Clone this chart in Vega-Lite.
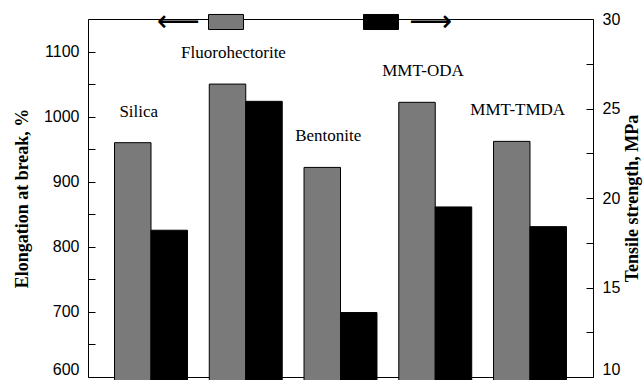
{
  "$schema": "https://vega.github.io/schema/vega-lite/v6.json",
  "autosize": "none",
  "width": 505,
  "height": 358,
  "padding": {"left": 88, "top": 19, "right": 51, "bottom": 3},
  "background": "white",
  "config": {
    "view": {"stroke": null},
    "axis": {"grid": false, "domainColor": "black", "tickColor": "black", "labelColor": "black", "titleColor": "black", "labelFont": "Liberation Sans", "labelFontSize": 16, "titleFont": "Liberation Serif", "titleFontSize": 18, "titleFontWeight": "bold", "tickWidth": 1},
    "legend": {"padding": 0}
  },
  "data": {
    "values": [
      {"sample": "Silica", "measure": "Elongation", "value": 960},
      {"sample": "Fluorohectorite", "measure": "Elongation", "value": 1050},
      {"sample": "Bentonite", "measure": "Elongation", "value": 922},
      {"sample": "MMT-ODA", "measure": "Elongation", "value": 1022},
      {"sample": "MMT-TMDA", "measure": "Elongation", "value": 962},
      {"sample": "Silica", "measure": "Tensile", "value": 18.2},
      {"sample": "Fluorohectorite", "measure": "Tensile", "value": 25.4},
      {"sample": "Bentonite", "measure": "Tensile", "value": 13.6},
      {"sample": "MMT-ODA", "measure": "Tensile", "value": 19.5},
      {"sample": "MMT-TMDA", "measure": "Tensile", "value": 18.4}
    ]
  },
  "encoding": {
    "x": {
      "field": "sample", "type": "nominal", "sort": null,
      "scale": {"paddingInner": 0.23, "paddingOuter": 0.28},
      "axis": {"title": null, "labels": false, "ticks": false, "tickSize": 0, "domainWidth": 1}
    },
    "xOffset": {"field": "measure", "type": "nominal", "scale": {"domain": ["Elongation", "Tensile"], "paddingInner": 0, "paddingOuter": 0}}
  },
  "layer": [
    {
      "layer": [
        {
          "transform": [{"filter": "datum.measure === 'Elongation'"}],
          "mark": {"type": "bar", "stroke": "black", "strokeWidth": 1},
          "encoding": {
            "y": {
              "field": "value", "type": "quantitative",
              "scale": {"domain": [600, 1150], "nice": false, "zero": false},
              "axis": {
                "title": "Elongation at break, %",
                "orient": "left",
                "values": [600, 700, 800, 900, 1000, 1100],
                "format": "d",
                "labelBaseline": {"condition": {"test": "datum.value === 600", "value": "bottom"}, "value": "middle"},
                "ticks": false, "tickSize": 0, "labelPadding": 9, "titlePadding": 12
              }
            },
            "color": {
              "field": "measure", "type": "nominal",
              "scale": {"domain": ["Elongation"], "range": ["#7a7a7a"]},
              "legend": {"title": null, "orient": "none", "legendX": 120, "legendY": -15, "symbolType": "M-1,-0.43H1V0.43H-1Z", "symbolSize": 1225, "symbolStrokeColor": "black", "symbolStrokeWidth": 1, "symbolOpacity": 1, "labelExpr": "'⟵'", "labelFont": "DejaVu Sans", "labelFontSize": 30, "labelAlign": "right", "labelOffset": -44}
            }
          }
        },
        {
          "transform": [{"filter": "datum.measure === 'Elongation'"}],
          "mark": {"type": "text", "font": "Liberation Serif", "fontSize": 17, "baseline": "middle", "dy": -31, "dx": 6, "color": "black"},
          "encoding": {
            "y": {"field": "value", "type": "quantitative", "axis": null},
            "xOffset": {"field": "measure", "type": "nominal"},
            "text": {"field": "sample"}
          }
        },
        {
          "transform": [{"filter": "datum.measure === 'Elongation'"}],
          "mark": {"type": "point", "opacity": 0},
          "encoding": {
            "y": {
              "field": "value", "type": "quantitative",
              "axis": {"orient": "right", "offset": -505, "title": null, "labels": false, "domain": false, "ticks": true, "tickSize": 7,
                "values": [600, 650, 700, 750, 800, 850, 900, 950, 1000, 1050, 1100, 1150]}
            }
          }
        }
      ],
      "resolve": {"axis": {"y": "independent"}}
    },
    {
      "layer": [
        {
          "transform": [{"filter": "datum.measure === 'Tensile'"}],
          "mark": {"type": "bar", "stroke": "black", "strokeWidth": 1},
          "encoding": {
            "y": {
              "field": "value", "type": "quantitative",
              "scale": {"domain": [10, 30], "nice": false, "zero": false},
              "axis": {
                "title": "Tensile strength, MPa",
                "orient": "right",
                "values": [10, 15, 20, 25, 30],
                "labelBaseline": {"condition": {"test": "datum.value === 10", "value": "bottom"}, "value": "middle"},
                "ticks": false, "tickSize": 0, "labelPadding": 9, "titlePadding": 22, "titleAngle": 270
              }
            },
            "color": {
              "field": "measure", "type": "nominal",
              "scale": {"domain": ["Tensile"], "range": ["black"]},
              "legend": {"title": null, "orient": "none", "legendX": 275, "legendY": -15, "symbolType": "M-1,-0.43H1V0.43H-1Z", "symbolSize": 1225, "symbolStrokeColor": "black", "symbolStrokeWidth": 1, "symbolOpacity": 1, "labelExpr": "'⟶'", "labelFont": "DejaVu Sans", "labelFontSize": 30, "labelOffset": 10}
            }
          }
        },
        {
          "transform": [{"filter": "datum.measure === 'Tensile'"}],
          "mark": {"type": "point", "opacity": 0},
          "encoding": {
            "x": {
              "field": "sample", "type": "nominal", "sort": null,
              "axis": {"orient": "top", "offset": -358, "title": null, "labels": false, "domain": false, "ticks": true, "tickSize": 7, "bandPosition": 0.91}
            },
            "y": {
              "field": "value", "type": "quantitative",
              "axis": {"orient": "left", "offset": -505, "title": null, "labels": false, "domain": false, "ticks": true, "tickSize": 7,
                "values": [10, 12.5, 15, 17.5, 20, 22.5, 25, 27.5, 30]}
            }
          }
        }
      ],
      "resolve": {"axis": {"y": "independent", "x": "independent"}}
    }
  ],
  "resolve": {"scale": {"y": "independent", "color": "independent"}}
}
